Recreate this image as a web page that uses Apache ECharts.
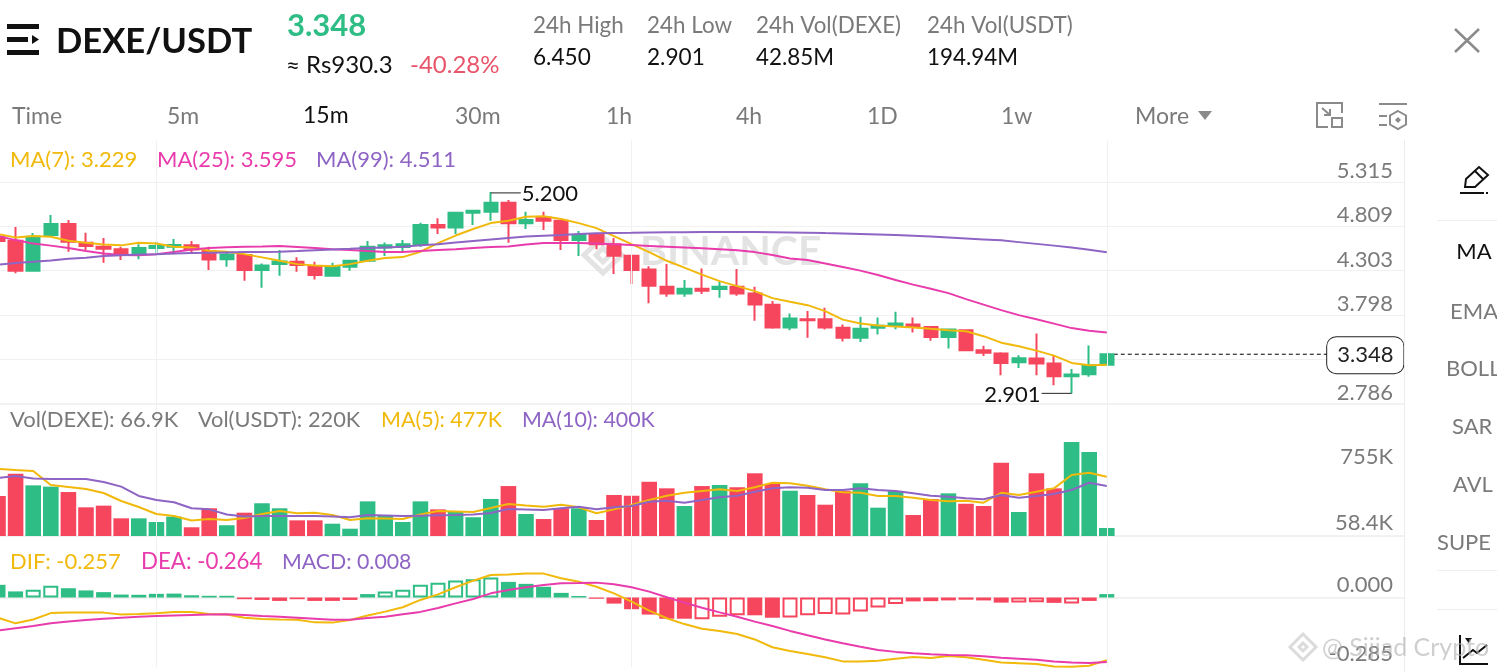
<!DOCTYPE html>
<html>
<head>
<meta charset="utf-8">
<style>html,body{margin:0;padding:0;background:#fff}#c{width:1497px;height:672px}</style>
<script src="https://cdn.jsdelivr.net/npm/echarts@6/dist/echarts.min.js"></script>
</head>
<body>
<div id="c"></div>
<script>
// [open, close, low, high]
const candles = [
[4.684,4.639,4.616,4.719],[4.642,4.300,4.273,4.799],[4.300,4.688,4.300,4.730],[4.707,4.833,4.707,4.936],
[4.833,4.631,4.517,4.878],[4.619,4.582,4.536,4.733],[4.574,4.551,4.391,4.673],[4.547,4.479,4.422,4.574],
[4.490,4.559,4.433,4.604],[4.559,4.582,4.479,4.631],[4.574,4.593,4.490,4.662],[4.590,4.544,4.505,4.639],
[4.525,4.430,4.308,4.574],[4.433,4.487,4.345,4.517],[4.479,4.308,4.186,4.479],[4.308,4.361,4.106,4.384],
[4.376,4.407,4.243,4.536],[4.402,4.365,4.288,4.453],[4.353,4.251,4.201,4.402],[4.243,4.345,4.243,4.391],
[4.345,4.414,4.300,4.414],[4.414,4.574,4.414,4.639],[4.567,4.590,4.468,4.624],[4.570,4.604,4.517,4.650],
[4.604,4.821,4.570,4.848],[4.821,4.795,4.719,4.898],[4.795,4.962,4.719,4.973],[4.962,4.985,4.821,4.985],
[4.973,5.076,4.870,5.200],[5.076,4.841,4.619,5.107],[4.841,4.878,4.776,4.973],[4.909,4.870,4.764,4.973],
[4.870,4.650,4.536,4.878],[4.650,4.707,4.468,4.753],[4.707,4.604,4.547,4.730],[4.604,4.471,4.262,4.673],
[4.471,4.308,4.148,4.471],[4.316,4.128,3.931,4.353],[4.117,4.042,4.003,4.376],[4.042,4.094,4.003,4.194],
[4.094,4.071,4.034,4.327],[4.091,4.117,3.991,4.174],[4.117,4.042,4.014,4.319],[4.042,3.916,3.729,4.117],
[3.912,3.654,3.638,3.954],[3.654,3.756,3.623,3.813],[3.748,3.737,3.535,3.840],[3.748,3.654,3.631,3.877],
[3.649,3.535,3.494,3.688],[3.535,3.638,3.489,3.775],[3.649,3.672,3.574,3.768],[3.672,3.699,3.634,3.832],
[3.688,3.660,3.596,3.768],[3.660,3.546,3.501,3.668],[3.546,3.631,3.414,3.642],[3.623,3.394,3.386,3.631],
[3.394,3.364,3.329,3.444],[3.357,3.249,3.109,3.372],[3.257,3.303,3.192,3.337],[3.300,3.243,3.109,3.585],
[3.243,3.098,2.995,3.337],[3.098,3.117,2.901,3.181],[3.120,3.223,3.090,3.448],[3.227,3.348,3.227,3.348]
];
const ma7 = [4.719,4.681,4.696,4.688,4.642,4.619,4.601,4.590,4.619,4.612,4.574,4.567,4.528,4.517,4.490,4.453,4.414,4.376,4.361,4.353,4.376,4.414,4.445,4.456,4.517,4.616,4.702,4.776,4.844,4.870,4.916,4.921,4.890,4.844,4.787,4.696,4.604,4.513,4.414,4.336,4.256,4.182,4.125,4.068,3.988,3.946,3.908,3.840,3.743,3.699,3.676,3.663,3.654,3.638,3.623,3.611,3.554,3.480,3.440,3.389,3.332,3.249,3.223,3.229];
const ma25 = [4.696,4.650,4.610,4.587,4.559,4.525,4.496,4.479,4.477,4.490,4.513,4.542,4.559,4.568,4.575,4.578,4.582,4.572,4.561,4.547,4.536,4.525,4.515,4.513,4.525,4.536,4.547,4.559,4.570,4.578,4.599,4.616,4.618,4.616,4.612,4.602,4.593,4.584,4.575,4.566,4.557,4.547,4.534,4.513,4.481,4.441,4.422,4.382,4.342,4.302,4.251,4.194,4.142,4.094,4.045,3.977,3.914,3.851,3.794,3.748,3.697,3.646,3.617,3.595];
const ma99 = [4.370,4.388,4.402,4.418,4.436,4.450,4.468,4.477,4.485,4.490,4.498,4.502,4.505,4.509,4.513,4.515,4.518,4.525,4.534,4.542,4.550,4.559,4.567,4.575,4.590,4.604,4.622,4.639,4.656,4.673,4.690,4.701,4.709,4.719,4.727,4.730,4.733,4.737,4.739,4.740,4.742,4.742,4.742,4.742,4.740,4.738,4.735,4.730,4.726,4.721,4.715,4.707,4.699,4.690,4.680,4.669,4.658,4.647,4.627,4.607,4.587,4.565,4.539,4.511];
const volumes = [335,521,424,413,368,240,254,148,148,117,162,73,232,90,195,274,232,131,131,103,61,290,176,117,290,223,209,157,310,418,184,142,232,232,134,343,337,454,399,251,418,427,408,525,435,379,343,262,379,441,237,377,176,310,357,270,251,614,201,525,399,787,703,66.9];
const volMa5 = [561,552,544,427,410,393,360,293,243,184,167,130,142,134,151,184,209,190,195,176,134,148,146,142,180,209,205,201,234,268,255,245,262,240,190,223,259,301,337,362,377,391,377,408,446,441,421,391,366,362,335,335,321,301,290,295,279,362,343,371,399,511,530,496];
const volMa10 = [485,502,481,477,477,477,452,413,335,301,282,232,223,180,163,167,167,167,167,163,157,176,172,167,170,173,176,180,193,226,222,218,232,245,223,240,251,287,295,279,301,324,337,371,399,408,404,385,385,399,385,377,357,337,329,316,307,343,321,335,352,385,446,419];
const macdHist = [.052,.025,.032,.048,.038,.029,.022,.012,.011,.015,.016,.009,.007,.007,-.007,-.010,-.014,-.007,-.014,-.014,-.010,.014,.025,.032,.052,.060,.070,.075,.082,.064,.056,.044,.019,.006,-.005,-.025,-.048,-.070,-.087,-.087,-.089,-.079,-.073,-.073,-.083,-.082,-.073,-.068,-.070,-.057,-.041,-.027,-.016,-.015,-.012,-.009,-.012,-.021,-.021,-.019,-.022,-.025,-.014,.014];
const macdHollow = [0,0,1,1,0,0,0,0,0,1,1,0,0,0,0,0,1,0,0,1,0,1,1,1,1,1,1,1,1,0,0,0,0,0,0,0,0,0,0,0,1,1,1,0,0,1,1,1,1,1,1,1,1,1,0,0,0,0,1,1,0,1,1,0];
const dif = [-.083,-.106,-.090,-.064,-.061,-.061,-.062,-.070,-.068,-.065,-.059,-.059,-.068,-.070,-.083,-.088,-.090,-.091,-.102,-.103,-.092,-.074,-.058,-.040,-.010,.013,.042,.069,.092,.094,.098,.098,.079,.065,.044,.017,-.017,-.054,-.085,-.109,-.128,-.137,-.150,-.172,-.204,-.219,-.232,-.245,-.262,-.262,-.259,-.251,-.244,-.248,-.240,-.245,-.255,-.267,-.270,-.273,-.283,-.284,-.280,-.257];
const dea = [-.135,-.126,-.117,-.106,-.098,-.092,-.087,-.083,-.079,-.076,-.074,-.072,-.070,-.069,-.072,-.076,-.079,-.083,-.087,-.091,-.091,-.084,-.079,-.069,-.059,-.043,-.024,-.006,.017,.031,.042,.051,.058,.059,.061,.054,.042,.024,.001,-.021,-.042,-.061,-.079,-.099,-.117,-.137,-.155,-.172,-.188,-.202,-.215,-.223,-.229,-.233,-.236,-.237,-.241,-.247,-.251,-.255,-.262,-.267,-.269,-.264];
const priceTicks = [2.786,3.292,3.798,4.303,4.809,5.315];
const volTicks = [58400,755000];
const volTickLabels = {58400:'58.4K',755000:'755K'};
const macdTicks = [-0.285,0];
const macdTickLabels = {'-0.285':'-0.285','0':'0.000'};
const lastPrice = 3.348;
const extremes = [[28,5.200,'5.200',1],[61,2.901,'2.901',-1]];
const gridMarks = [9,36,63];
const categories = Array.from({length:81},(_, i)=>String(i));

const GREEN='#2EBD85',RED='#F6465D',ORANGE='#F0B90B',PINK='#E93CAC',PURPLE='#8E64C4',GRAY='#7a7a7a',LINE='#f1f1f1',FONT='Lato';
const LEFT=-10.8,WIDTH=1425.6;
const gridsDef=[[140,403.5],[404,536],[536,667]];

const t=(text,x,y,size,fill,extra)=>({type:'text',x,y,z:60,silent:true,style:{text,font:`${(extra&&extra.w)||400} ${size}px ${FONT}`,fill,textVerticalAlign:'middle',textAlign:(extra&&extra.a)||'left'}});
// icon helper: "M x y L x y ... Z" into polylines and polygons
const p=(d,stroke,w,fill,z)=>d.split('M').filter(s=>s.trim()).map(s=>{
  const closed=/Z/.test(s);
  const nums=s.replace(/[LZ]/g,' ').trim().split(/\s+/).map(Number);
  const pts=[];for(let i=0;i<nums.length;i+=2)pts.push([nums[i],nums[i+1]]);
  return {type:closed?'polygon':'polyline',z:z||60,silent:true,shape:{points:pts},style:{stroke:stroke||'none',lineWidth:w||1,fill:fill||'none'}};
});
const rect=(x,y,w,h,fill)=>({type:'rect',z:60,silent:true,shape:{x,y,width:w,height:h},style:{fill}});

const graphics=[
  // watermark behind the marks
  {type:'text',x:640,y:252,z:1,silent:true,style:{text:'BINANCE',font:'700 41px '+FONT,fill:'#e3e3e3',textVerticalAlign:'middle',textAlign:'left'}},
  ...p('M603 237 L622 255 L603 273 L584 255 Z M603 248 L610 255 L603 262 L596 255 Z','#e3e3e3',5,null,1),
  // right panel
  rect(1405,90,92,582,'#fff'),
  rect(1404,140,1,532,'#ececec'),
  rect(1437,220,60,1,'#eeeeee'),rect(1437,570,60,1,'#eeeeee'),rect(1437,609,60,1,'#eeeeee'),
  ...p('M1465 187 L1466 179 L1479 167 L1488 175 L1475 187 Z M1475 171 L1483 179','#111',2),
  rect(1460,192,24,2,'#111'),rect(1486,192,2,2,'#111'),
  t('MA',1474,252,22,'#111',{a:'center'}),
  t('EMA',1450,312,22,GRAY),t('BOLL',1446,369,22,GRAY),t('SAR',1452,427,22,GRAY),t('AVL',1453,485,22,GRAY),t('SUPE',1437,543,22,GRAY),
  ...p('M1460 635 L1460 664 L1488 664 M1463 658 L1473 650 L1477 653 L1487 645','#111',2),
  ...p('M1465 638 L1472 638 L1468.5 643 Z',null,1,'#111'),
  // header
  rect(7,24,32,5,'#111'),rect(7,37,21,5,'#111'),rect(7,50,32,5,'#111'),...p('M32 35 L39 39.5 L32 44 Z',null,1,'#111'),
  t('DEXE/USDT',56,41.5,34.6,'#111',{w:700}),
  t('3.348',287,26,31,GREEN,{w:700}),
  t('≈ Rs930.3',286,65.5,24,'#111'),
  t('-40.28%',410,65.5,24,'#E8556B'),
  t('24h High',533,26,22.4,GRAY),t('6.450',533,58,22.6,'#111'),
  t('24h Low',647,26,22.4,GRAY),t('2.901',647,58,22.6,'#111'),
  t('24h Vol(DEXE)',756,26,22.4,GRAY),t('42.85M',756,58,22.4,'#111'),
  t('24h Vol(USDT)',927,26,22.4,GRAY),t('194.94M',927,58,22.4,'#111'),
  ...p('M1455 29 L1479 52 M1479 29 L1455 52','#8a8a8a',2.5),
  // tabs
  t('Time',12,117,23,GRAY),t('5m',167,117,23,GRAY),t('15m',303,116,23,'#111'),t('30m',455,117,23,GRAY),
  t('1h',606,117,23,GRAY),t('4h',736,117,23,GRAY),t('1D',867,117,23,GRAY),t('1w',1001,117,23,GRAY),t('More',1135,117,23,GRAY),
  ...p('M1198 111 L1212 111 L1205 120 Z',null,1,'#8a8a8a'),
  ...p('M1332 103 L1317 103 L1317 127 L1328 127 M1332 103 L1342 103 L1342 113 M1322 108 L1330 115 M1330 109 L1330 115 L1324 115','#8a8a8a',2),
  ...p('M1332 118 L1342 118 L1342 127 L1332 127 Z','#8a8a8a',2),
  ...p('M1379 104 L1407 104 M1379 116 L1387 116 M1379 125 L1387 125 M1398 111 L1406 115.5 L1406 124.5 L1398 129 L1390 124.5 L1390 115.5 Z','#8a8a8a',2),
  ...p('M1398 117 L1401 120 L1398 123 L1395 120 Z',null,1,'#8a8a8a'),
  // pane legends
  t('MA(7): 3.229',10,160,22,ORANGE),t('MA(25): 3.595',157,160,22,PINK),t('MA(99): 4.511',316,160,22,PURPLE),
  t('Vol(DEXE): 66.9K',10,420,22,GRAY),t('Vol(USDT): 220K',198,420,21.8,GRAY),t('MA(5): 477K',381,420,21.5,ORANGE),t('MA(10): 400K',522,420,21.4,PURPLE),
  t('DIF: -0.257',10,562,22,ORANGE),t('DEA: -0.264',141,562,22.3,PINK),t('MACD: 0.008',282,562,21.3,PURPLE),
  // credit
  ...p('M1303 634 L1316 647 L1303 660 L1290 647 Z M1303 643 L1307 647 L1303 651 L1299 647 Z','rgba(190,190,190,.55)',3,null,70),
  {type:'text',x:1322,y:648,z:70,silent:true,style:{text:'@ Sijiad Crypto',font:'400 25px '+FONT,fill:'rgba(175,175,175,.6)',textVerticalAlign:'middle',textAlign:'left'}}
];

const vMarks={silent:true,symbol:'none',label:{show:false},lineStyle:{color:LINE,width:1,type:'solid'},animation:false,data:gridMarks.map(i=>({xAxis:i}))};
const lineS=(name,data,color,xi)=>({name,type:'line',xAxisIndex:xi,yAxisIndex:xi===0?0:(xi===1?1:3),data,showSymbol:false,symbol:'none',silent:true,lineStyle:{color,width:2},itemStyle:{color},z:5,animation:false});

const option={
  animation:false,
  backgroundColor:'#fff',
  grid:gridsDef.map(g=>({left:LEFT,width:WIDTH,top:g[0],height:g[1]-g[0],containLabel:false,outerBoundsMode:'none'})),
  xAxis:[0,1,2].map(i=>({type:'category',gridIndex:i,data:categories,axisLabel:{show:false},axisTick:{show:false},splitLine:{show:false},axisLine:{show:true,lineStyle:{color:'#f2f2f2',width:2}}})),
  yAxis:[
    {type:'value',gridIndex:0,position:'right',min:2.786,max:5.792,
     axisLine:{show:false},axisTick:{show:false,customValues:priceTicks},
     splitLine:{show:true,lineStyle:{color:LINE,width:1}},
     axisLabel:{inside:true,customValues:priceTicks,margin:21.8,color:GRAY,fontFamily:FONT,fontSize:22,verticalAlign:'bottom',formatter:v=>v.toFixed(3),showMinLabel:true,showMaxLabel:true}},
    {type:'value',gridIndex:1,min:0,max:1104.84,show:false,splitLine:{show:false}},
    {type:'value',gridIndex:1,position:'right',min:-78800,max:1314000,
     axisLine:{show:false},axisTick:{show:false,customValues:volTicks},splitLine:{show:false},
     axisLabel:{inside:true,customValues:volTicks,margin:21.8,color:GRAY,fontFamily:FONT,fontSize:22,verticalAlign:'middle',formatter:v=>volTickLabels[v]}},
    {type:'value',gridIndex:2,position:'right',min:-0.285,max:0.2522,
     axisLine:{show:false},axisTick:{show:false,customValues:macdTicks},splitLine:{show:false},
     axisLabel:{inside:true,customValues:macdTicks,margin:21.8,color:GRAY,fontFamily:FONT,fontSize:22,verticalAlign:'bottom',padding:[0,0,2,0],formatter:v=>macdTickLabels[String(v)]}}
  ],
  series:[
    {name:'K',type:'candlestick',xAxisIndex:0,yAxisIndex:0,data:candles,barWidth:14,silent:true,z:3,
     itemStyle:{color:GREEN,color0:RED,borderColor:GREEN,borderColor0:RED,borderWidth:2},
     markLine:vMarks},
    lineS('MA7',ma7,ORANGE,0),lineS('MA25',ma25,PINK,0),lineS('MA99',ma99,PURPLE,0),
    {name:'Last',type:'line',xAxisIndex:0,yAxisIndex:0,data:categories.map((_,i)=>i>=63?lastPrice:null),showSymbol:false,symbol:'none',silent:true,z:2,
     lineStyle:{color:'#000',width:1,type:[4,3]},
     markPoint:{silent:true,symbol:'rect',symbolSize:1,itemStyle:{color:'transparent'},z:20,
       data:[{coord:[78,lastPrice],value:lastPrice}],
       label:{show:true,position:'inside',offset:[-5.5,1],formatter:()=>lastPrice.toFixed(3),color:'#222',fontFamily:FONT,fontSize:22,backgroundColor:'#fff',borderColor:'#222',borderWidth:1,borderRadius:9,padding:[7,10,7,10]}}},
    {name:'Extremes',type:'custom',xAxisIndex:0,yAxisIndex:0,data:extremes,silent:true,z:6,clip:false,
     renderItem:(params,api)=>{
       const c=api.coord([api.value(0),api.value(1)]);
       const row=extremes[params.dataIndex],dir=row[3];
       const yy=c[1]+(dir>0?1:0);
       return {type:'group',children:[
         {type:'line',shape:{x1:c[0],y1:yy,x2:c[0]+dir*30,y2:yy},style:{stroke:'#444',lineWidth:1.2}},
         {type:'text',style:{text:row[2],x:c[0]+dir*31,y:yy+1,fill:'#111',font:'400 22px '+FONT,textAlign:dir>0?'left':'right',textVerticalAlign:'middle'}}
       ]};
     }},
    {name:'Vol',type:'bar',xAxisIndex:1,yAxisIndex:1,barWidth:15.6,silent:true,z:2,
     data:volumes.map((v,i)=>({value:v,itemStyle:{color:candles[i][1]>=candles[i][0]?GREEN:RED}})),
     markLine:vMarks},
    lineS('VolMA5',volMa5,ORANGE,1),lineS('VolMA10',volMa10,PURPLE,1),
    {name:'MACD',type:'bar',xAxisIndex:2,yAxisIndex:3,barWidth:15,silent:true,z:2,
     data:macdHist.map((v,i)=>{const col=v>=0?GREEN:RED;return {value:v,itemStyle:macdHollow[i]?{color:'#fff',borderColor:col,borderWidth:2}:{color:col}};}),
     markLine:vMarks},
    lineS('DIF',dif,ORANGE,2),lineS('DEA',dea,PINK,2)
  ],
  graphic:graphics
};
const chart=echarts.init(document.getElementById('c'));
chart.setOption(option);
</script>
</body>
</html>
